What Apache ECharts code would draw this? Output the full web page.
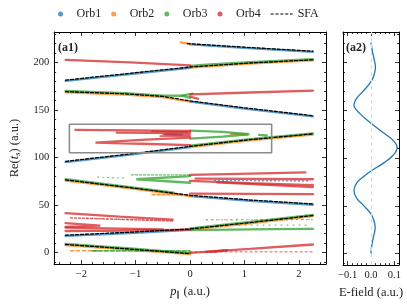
<!DOCTYPE html>
<html><head><meta charset="utf-8">
<script src="https://cdn.jsdelivr.net/npm/echarts@6/dist/echarts.min.js"></script>
<style>html,body{margin:0;padding:0;background:#fff}#c{width:407px;height:304px}</style>
</head><body><div id="c"></div>
<script>
// ---------- tick labels ----------
const xMajor = [-2, -1, 0, 1, 2];
const yMajor = [0, 50, 100, 150, 200];
const eMajor = [-0.1, 0, 0.1];

// ---------- SFA saddle-point times [p, Re(ts)] ----------
const sfa1 = [[-0.05,219.8],[1,216],[2.26,211.8]];
const sfa2 = [[-2.29,181.4],[-1.15,188.3],[0,195.2],[1.1,199.4],[2.26,202.8]];
const sfa4 = [[-2.29,169.3],[-1.2,167],[-0.5,164.3],[0,159.5],[1,152.3],[2.26,144]];
const sfa7 = [[-2.29,96],[-1.1,103.8],[0,111.8],[1.1,118.8],[2.26,124.9]];
const sfa8 = [[-2.29,76.5],[-1.1,68.3],[0,60.3],[1.1,55.4],[2.26,51.2]];
const sfa9 = [[-2.29,18.4],[-1.1,21.5],[0,24.9],[1.1,31.6],[2.26,39.1]];
const sfa10 = [[-2.29,8.6],[-1.1,3.8],[0,-1]];

// ---------- Orb1 (blue) ----------
const orb1a = [[0,219],[1,215.3],[2.26,211.2]];
const orb1b = [[-2.29,180.6],[-1.15,187.5],[0,194.4]];
const orb1c = [[0,158.7],[1,151.5],[2.26,143.2]];
const orb1d = [[-2.29,95.2],[-1.1,103],[0,111]];
const orb1e = [[0,59.5],[1.1,54.6],[2.26,50.4]];
const orb1f = [[-2.29,17.6],[-1.1,20.7],[0,24.1]];
const orb1g = [[-0.45,124.6],[-0.15,124.2]];
const orb1h = [[0.45,76],[2.2,75.3]];
const orb1i = [[-1.9,36.2],[-0.6,34]];

// ---------- Orb2 (orange) ----------
const orb2a = [[-0.17,221.2],[0,219.6]];
const orb2b = [[0,194.6],[1.1,198.7],[2.26,202.1]];
const orb2c = [[-2.29,168.6],[-1.2,166.2],[-0.5,163.5],[0,158.8]];
const orb2d = [[0,111.1],[1.1,118.1],[2.26,124.2]];
const orb2e = [[-2.29,75.8],[-1.1,67.6],[0,59.6]];
const orb2f = [[0,24.2],[1.1,30.9],[2.26,38.4]];
const orb2g = [[-2.29,7.9],[-1.1,3.1],[0,-1.6]];
const orb2h = [[-0.7,61],[-0.14,61]];
const orb2i = [[-2.2,2],[-1.7,2]];
const orb2j = [[0.75,124.9],[1.05,124.4]];
const orb2k = [[0.3,34.8],[2.2,35]];

// ---------- Orb3 (green) ----------
const orb3a = [[0,196.3],[0.3,197.6],[1.1,200.2],[2.26,203.4]];
const orb3b = [[-2.29,170],[-1.2,167.7],[-0.5,165.2],[-0.15,165],[0.05,167.3]];
const orb3c = [[-0.15,165],[0,162.8]];
const orb3d = [[0,128.3],[0.6,127],[1.09,124.5],[0.6,122],[0,120]];
const orb3e = [[1.27,123.8],[1.41,123.2]];
const orb3f = [[0,112.4],[1.1,119.4],[2.26,125.5]];
const orb3g = [[-2.29,77.2],[-1.1,69],[-0.3,63]];
const orb3h = [[0,80.5],[-0.99,77.2],[0,73.5]];
const orb3i = [[-1.08,81.8],[0,81.8]];
const orb3j = [[-1.7,79.5],[-1.2,78.5]];
const orb3k = [[0,25.6],[1.1,32.3],[2.26,39.8]];
const orb3l = [[0,23.8],[1.5,24.8],[2.26,25]];
const orb3m = [[0.3,34.5],[2.26,34.8]];
const orb3n = [[0.9,29],[2.2,29]];
const orb3o = [[-2.29,9.2],[-1.1,4.4],[0,-0.4]];
const orb3p = [[-1.8,2],[0,2]];

// ---------- Orb4 (red) ----------
const orb4a = [[-2.29,202.8],[-1.1,200],[0,197]];
const orb4b = [[0,166.5],[1.1,168.4],[2.26,170.3]];
const orb4c = [[0,164],[0.15,161.8]];
const orb4d = [[-2.11,129.1],[-1,128.5],[0,127.9]];
const orb4e = [[-1.35,126.2],[0,125.8]];
const orb4f = [[0,121],[-0.9,118.5],[-1.74,115.7],[-0.9,114.5],[0,113]];
const orb4g = [[-0.7,127.5],[-0.05,127.2]];
const orb4h = [[-0.55,122.5],[0,122.5]];
const orb4i = [[-0.5,124],[0,123.8]];
const orb4j = [[0,81.7],[1.1,83.2],[2.12,84.4]];
const orb4k = [[0.1,77.8],[2.26,77.2]];
const orb4l = [[0,75.5],[1.1,73.2],[2.26,71]];
const orb4m = [[0.5,74],[2.26,69]];
const orb4n = [[0,62],[2.26,61.5]];
const orb4o = [[-2.29,41.5],[-1.3,38],[-0.32,34.6]];
const orb4p = [[-2.2,36.6],[-0.3,33.2]];
const orb4q = [[-2.29,31],[-1.65,28.5],[-2.29,27.2]];
const orb4r = [[-2.29,26.4],[-0.5,24.6]];
const orb4s = [[-2.29,22.8],[-1,23.3],[0,24.3]];
const orb4t = [[0,-0.2],[1.1,4],[2.26,8.6]];
const orb4u = [[0.3,0.8],[0.7,2.8],[0.45,0.8]];
const orb4v = [[0,1],[2.26,1]];

// ---------- zoom box [p, t] ----------
const boxP = [-2.22, 1.5, 1.5, -2.22, -2.22];
const boxT = [135, 135, 105, 105, 135];

// ---------- E-field [E, t] ----------
const eField = [[0,0],[0.004,10],[0.012,19],[0.018,27],[0.012,35],[0,41.5],[-0.03,50],[-0.062,58],[-0.073,66],[-0.058,75],[-0.03,81],[0,86.5],[0.055,95],[0.095,103],[0.112,110.8],[0.097,118],[0.05,127],[0,136.5],[-0.045,146],[-0.073,155.5],[-0.06,163],[-0.03,171],[0,180],[0.013,187],[0.019,195],[0.013,204],[0.005,213],[0,221]];

// ================= chart =================
const FONT = 'Liberation Serif';
const C1 = '#1f77b4', C2 = '#ff7f0e', C3 = '#2ca02c', C4 = '#d62728';
function range(a, b, step, skip) {
  const out = [];
  for (let v = a; v <= b + 1e-9; v += step) {
    const r = Math.round(v * 1000) / 1000;
    if (!skip.some(s => Math.abs(s - r) < 1e-9)) out.push(r);
  }
  return out;
}
const xMinor = range(-2.4, 2.4, 0.2, xMajor);
const yMinor = range(-10, 230, 10, yMajor);
const eMinor = range(-0.1, 0.1, 0.02, eMajor);
const minus = v => (v < 0 ? '\u2212' : '') + Math.abs(v);

function ax(grid, pos, min, max, vals, len, showLine, label) {
  const a = {
    type: 'value', gridIndex: grid, position: pos, min: min, max: max,
    splitLine: {show: false},
    axisLine: {show: showLine, onZero: false, lineStyle: {color: '#000', width: 1}},
    axisTick: {show: true, inside: true, length: len, customValues: vals, lineStyle: {color: '#000', width: 0.8}},
    axisLabel: {show: false}
  };
  if (label) a.axisLabel = Object.assign({show: true, customValues: vals, fontFamily: FONT, fontSize: 10.5, color: '#222'}, label);
  return a;
}
const xAxes = [
  ax(0, 'bottom', -2.5, 2.5, xMajor, 4, true, {margin: 5, formatter: minus}),
  ax(0, 'bottom', -2.5, 2.5, xMinor, 2, false),
  ax(0, 'top', -2.5, 2.5, xMajor, 4, true),
  ax(0, 'top', -2.5, 2.5, xMinor, 2, false),
  ax(1, 'bottom', -0.12, 0.12, eMajor, 4, true, {margin: 5, formatter: v => (v < 0 ? '\u2212' : '') + Math.abs(v).toFixed(1)}),
  ax(1, 'bottom', -0.12, 0.12, eMinor, 2, false),
  ax(1, 'top', -0.12, 0.12, eMajor, 4, true),
  ax(1, 'top', -0.12, 0.12, eMinor, 2, false)
];
xAxes[0].name = '{i|p}{s|\u2225} (a.u.)';
xAxes[0].nameLocation = 'middle';
xAxes[0].nameGap = 19;
xAxes[0].nameTextStyle = {fontFamily: FONT, fontSize: 12.5, color: '#222',
  rich: {i: {fontFamily: FONT, fontSize: 12.5, fontStyle: 'italic', color: '#222'}, s: {fontFamily: FONT, fontSize: 8, color: '#222', padding: [7, 0, 0, 0]}}};
xAxes[4].name = 'E-field (a.u.)';
xAxes[4].nameLocation = 'middle';
xAxes[4].nameGap = 19;
xAxes[4].nameTextStyle = {fontFamily: FONT, fontSize: 12.5, color: '#222'};

const yAxes = [
  ax(0, 'left', -12, 232, yMajor, 4, true, {margin: 5}),
  ax(0, 'left', -12, 232, yMinor, 2, false),
  ax(0, 'right', -12, 232, yMajor, 4, true),
  ax(0, 'right', -12, 232, yMinor, 2, false),
  ax(1, 'left', -12, 232, yMajor, 4, true),
  ax(1, 'left', -12, 232, yMinor, 2, false),
  ax(1, 'right', -12, 232, yMajor, 4, true),
  ax(1, 'right', -12, 232, yMinor, 2, false)
];
yAxes[0].name = 'Re({i|t}{s|s}) (a.u.)';
yAxes[0].nameLocation = 'middle';
yAxes[0].nameRotate = 90;
yAxes[0].nameGap = 26;
yAxes[0].nameTextStyle = {fontFamily: FONT, fontSize: 12.5, color: '#222',
  rich: {i: {fontFamily: FONT, fontSize: 12.5, fontStyle: 'italic', color: '#222'}, s: {fontFamily: FONT, fontSize: 8.5, color: '#222', padding: [7, 0, 0, 0]}}};

const series = [];
function seg(name, data, color, opts) {
  opts = opts || {};
  series.push({
    name: name, type: 'line', data: data, xAxisIndex: 0, yAxisIndex: 0,
    symbol: 'none', showSymbol: false, silent: true, z: opts.z || 2,
    lineStyle: {color: color, width: opts.w || 2.3, opacity: opts.o || 0.75, type: opts.t || 'solid', cap: 'round'},
    itemStyle: {color: color}
  });
}
// Orb1
[orb1a, orb1b, orb1c, orb1d, orb1e, orb1f, orb1g].forEach(d => seg('Orb1', d, C1));
seg('Orb1', orb1h, C1, {w: 1.4, t: [1, 3], o: 0.7});
seg('Orb1', orb1i, C1, {w: 1.2, t: [1, 4], o: 0.6});
// Orb2
[orb2a, orb2b, orb2c, orb2d, orb2e, orb2f, orb2g, orb2j].forEach(d => seg('Orb2', d, C2));
seg('Orb2', orb2h, C2, {w: 1.6, t: [3, 2], o: 0.8});
seg('Orb2', orb2i, C2, {w: 1.6, t: [3, 3], o: 0.8});
seg('Orb2', orb2k, C2, {w: 1.2, t: [1, 5], o: 0.6});
// Orb3
[orb3a, orb3b, orb3c, orb3d, orb3e, orb3f, orb3g, orb3h, orb3k, orb3l, orb3o].forEach(d => seg('Orb3', d, C3));
seg('Orb3', orb3i, C3, {w: 1.4, t: [2, 2], o: 0.7});
seg('Orb3', orb3j, C3, {w: 1.2, t: [1, 4], o: 0.6});
seg('Orb3', orb3m, C3, {w: 1.2, t: [1, 4], o: 0.6});
seg('Orb3', orb3n, C3, {w: 1.2, t: [1, 5], o: 0.6});
seg('Orb3', orb3p, C3, {w: 1.8, t: [4, 2], o: 0.8});
// Orb4
[orb4a, orb4b, orb4c, orb4d, orb4e, orb4f, orb4j, orb4k, orb4l, orb4m, orb4n, orb4o, orb4q, orb4r, orb4s, orb4t, orb4u].forEach(d => seg('Orb4', d, C4));
[orb4g, orb4h, orb4i].forEach(d => seg('Orb4', d, C4, {w: 1.6, o: 0.7}));
seg('Orb4', orb4p, C4, {w: 1.5, t: [2, 2], o: 0.7});
seg('Orb4', orb4v, C4, {w: 1.3, t: [2, 3], o: 0.5});
// SFA
[sfa1, sfa2, sfa4, sfa7, sfa8, sfa9, sfa10].forEach(d => seg('SFA', d, '#000', {w: 1.3, t: [3, 2], o: 1, z: 5}));
// box
series.push({
  type: 'line', data: boxP.map((p, i) => [p, boxT[i]]), xAxisIndex: 0, yAxisIndex: 0,
  symbol: 'none', silent: true, z: 6, lineStyle: {color: '#8c8c8c', width: 1.6}
});
// E-field
series.push({
  type: 'line', data: eField, xAxisIndex: 4, yAxisIndex: 4, smooth: 0.4,
  symbol: 'none', silent: true, z: 3, lineStyle: {color: C1, width: 1.3},
  markLine: {silent: true, symbol: 'none', label: {show: false},
    lineStyle: {color: '#d9d9d9', width: 1, type: [4, 3]}, data: [{xAxis: 0}]}
});

const chart = echarts.init(document.getElementById('c'), null, {renderer: 'canvas'});
chart.setOption({
  animation: false,
  backgroundColor: '#fff',
  grid: [
    {left: 43, right: 81, top: 32, bottom: 38},
    {left: 343, right: 8, top: 32, bottom: 38}
  ],
  legend: {
    top: 8, left: 58, padding: 0, itemWidth: 22, itemHeight: 5, itemGap: 10,
    textStyle: {fontFamily: FONT, fontSize: 12, color: '#222'},
    data: [
      {name: 'Orb1', icon: 'circle', itemStyle: {opacity: 0.75}},
      {name: 'Orb2', icon: 'circle', itemStyle: {opacity: 0.75}},
      {name: 'Orb3', icon: 'circle', itemStyle: {opacity: 0.75}},
      {name: 'Orb4', icon: 'circle', itemStyle: {opacity: 0.75}},
      {name: 'SFA', icon: 'path://M0,0h3.5v1h-3.5zM5.5,0h3.5v1h-3.5zM11,0h3.5v1h-3.5zM16.5,0h3.5v1h-3.5zM22,0h3v1h-3z', itemStyle: {color: '#000', opacity: 1}}
    ]
  },
  graphic: [
    {type: 'text', left: 58, top: 42, style: {text: '(a1)', font: 'bold 12px "Liberation Serif"', fill: '#222'}},
    {type: 'text', left: 346, top: 42, style: {text: '(a2)', font: 'bold 12px "Liberation Serif"', fill: '#222'}}
  ],
  xAxis: xAxes,
  yAxis: yAxes,
  series: series
});
</script></body></html>
